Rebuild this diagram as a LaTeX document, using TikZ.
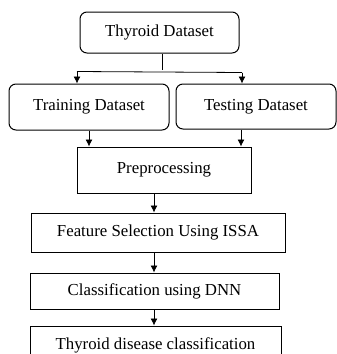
\documentclass[tikz,border=0pt]{standalone}
\usepackage{fontspec}
\setmainfont{Liberation Serif}
\usetikzlibrary{arrows.meta,calc}
\begin{document}
\begin{tikzpicture}[x=1pt,y=-1pt,
  every node/.style={font=\fontsize{16.8}{18}\selectfont, inner sep=0pt},
  rbox/.style={draw, line width=1pt, rounded corners=7pt},
  sbox/.style={draw, line width=1pt},
  arr/.style={line width=0.8pt, -{Latex[length=7pt,width=7pt]}},
  ln/.style={line width=0.8pt}]
\useasboundingbox (0,0) rectangle (337,354);
\clip (0,0) rectangle (337,354);
\fill[white] (0,0) rectangle (337,354);
\node[rbox, minimum width=159pt, minimum height=41pt] (thy) at (159.5,32.5) {Thyroid Dataset};
\node[rbox, minimum width=160pt, minimum height=46pt] (tr) at (89,107) {Training Dataset};
\node[rbox, minimum width=160pt, minimum height=45pt] (te) at (256,106.5) {Testing Dataset};
\node[sbox, minimum width=174pt, minimum height=46pt] (pre) at (164,170) {Preprocessing};
\node[sbox, minimum width=254pt, minimum height=39pt] (fs) at (158,232.5) {Feature Selection Using ISSA};
\node[sbox, minimum width=249pt, minimum height=36pt] (cl) at (154.5,291) {Classification using DNN};
\node[sbox, minimum width=251pt, minimum height=38pt] (td) at (155.5,345) {Thyroid disease classification};
\coordinate (split) at (162,70);
\coordinate (a1) at (77,71.5);
\coordinate (a2) at (242,72.5);
\coordinate (mx) at (154,0);
\coordinate (tx) at (241,0);
\draw[ln] (thy.south -| split) -- (split);
\draw[ln] (a1) -- (a2);
\draw[arr] (a1) -- (a1 |- tr.north);
\draw[arr] (a2) -- (a2 |- te.north);
\draw[arr] (tr.south) -- (tr.south |- pre.north);
\draw[arr] (te.south -| tx) -- (pre.north -| tx);
\draw[arr] (pre.south -| mx) -- (fs.north -| mx);
\draw[arr] (fs.south -| mx) -- (cl.north -| mx);
\draw[arr] (cl.south -| mx) -- (td.north -| mx);
\end{tikzpicture}
\end{document}
